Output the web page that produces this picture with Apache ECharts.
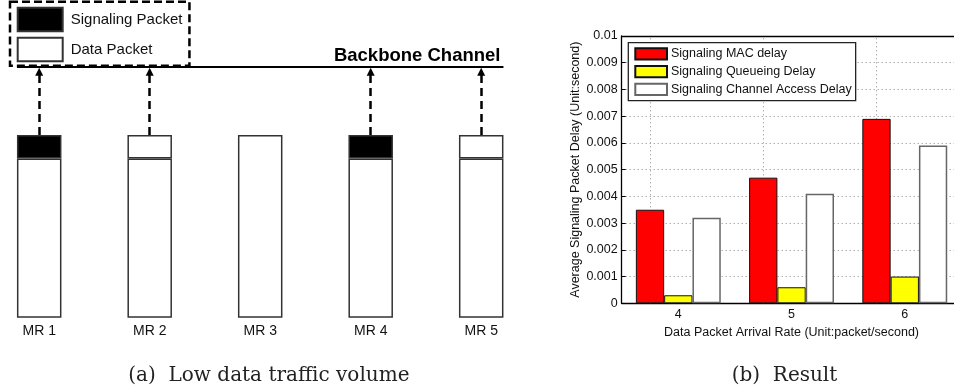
<!DOCTYPE html>
<html>
<head>
<meta charset="utf-8">
<script src="https://cdn.jsdelivr.net/npm/echarts@6/dist/echarts.min.js"></script>
<style>
  html, body { margin: 0; padding: 0; background: #fff; }
  #chart { width: 954px; height: 389px; }
</style>
</head>
<body>
<div id="chart"></div>
<script>
// ---- Panel (a): mesh router buffers and their head-of-line packets ----
const mrNames = ['MR 1', 'MR 2', 'MR 3', 'MR 4', 'MR 5'];
const queuedData = [6.8, 6.8, 7.8, 6.8, 6.8];   // buffered data packets
const headSignaling = [1, 0, 0, 1, 0];           // signaling packet at the head
const headData = [0, 1, 0, 0, 1];                // data packet at the head
const backboneLevel = 10.7;
const arrowEnd = 10.5;

// ---- Panel (b): signaling delay vs. data packet arrival rate ----
const rateLabels = ['4', '5', '6'];
const macDelay = [0.0035, 0.0047, 0.0069];
const queueingDelay = [0.0003, 0.0006, 0.0010];
const accessDelay = [0.0032, 0.0041, 0.0059];
const gridMarks = [3.75, 4.75, 5.75];

const SANS = '"Liberation Sans", Arial, sans-serif';
const chart = echarts.init(document.getElementById('chart'), null, { renderer: 'canvas' });

// panel (a) layout: one category band per router
const bandPx = 110.5;
const bufferWidth = 44.5;
const halfBuffer = bufferWidth / 2 / bandPx;       // half a buffer, in band units

const orDash = (vals) => vals.map((v) => (v ? v : '-'));

// dashed transmission arrows from each non-empty buffer head up to the backbone
const arrows = [];
mrNames.forEach((name, i) => {
  if (headSignaling[i] + headData[i] > 0) {
    const top = queuedData[i] + headSignaling[i] + headData[i];
    arrows.push([{ coord: [name, top] }, { coord: [name, arrowEnd] }]);
  }
});

const bufferBorder = { borderColor: '#333', borderWidth: 1.5 };

const option = {
  animation: false,
  backgroundColor: '#fff',
  grid: [
    { left: 39.2 - bandPx / 2, width: bandPx * 5, top: 60, height: 257.7, outerBoundsMode: 'none', containLabel: false },
    { left: 621.7, width: 339.7, top: 36, height: 267.3, outerBoundsMode: 'none', containLabel: false }
  ],
  xAxis: [
    {
      gridIndex: 0, type: 'category', data: mrNames,
      axisLine: { show: false }, axisTick: { show: false }, splitLine: { show: false },
      axisLabel: { margin: 6, fontFamily: SANS, fontSize: 14, color: '#111' }
    },
    {
      gridIndex: 1, type: 'category', data: rateLabels, position: 'bottom',
      axisLine: { lineStyle: { color: '#000', width: 1.3 } },
      axisTick: { show: false },
      axisLabel: { margin: 5, fontFamily: SANS, fontSize: 12.5, color: '#111' },
      name: 'Data Packet Arrival Rate (Unit:packet/second)',
      nameLocation: 'middle', nameGap: 18,
      nameTextStyle: { fontFamily: SANS, fontSize: 12.5, color: '#111' }
    },
    {
      gridIndex: 1, type: 'value', min: 3.5, max: 6.5, position: 'top',
      axisLine: { show: true, onZero: false, lineStyle: { color: '#000', width: 1.3 } },
      axisTick: { show: false }, axisLabel: { show: false }, splitLine: { show: false }
    },
    {
      // continuous helper axis over the router bands (band centres at 1..5)
      gridIndex: 0, type: 'value', min: 0.5, max: mrNames.length + 0.5, show: false
    }
  ],
  yAxis: [
    { gridIndex: 0, type: 'value', min: 0, max: 11, show: false },
    {
      gridIndex: 1, type: 'value', min: 0, max: 0.01, interval: 0.001,
      axisLine: { show: true, lineStyle: { color: '#000', width: 1.3 } },
      axisTick: { show: true, inside: true, length: 4, lineStyle: { color: '#000' } },
      axisLabel: { margin: 4, fontFamily: SANS, fontSize: 12.5, color: '#111' },
      splitLine: { show: true, lineStyle: { color: '#8a8a8a', type: [1, 3], width: 1 } },
      name: 'Average Signaling Packet Delay (Unit:second)',
      nameLocation: 'middle', nameGap: 33,
      nameTextStyle: { fontFamily: SANS, fontSize: 12.5, color: '#111' }
    }
  ],
  legend: [
    {
      data: ['Signaling Packet', 'Data Packet'],
      orient: 'vertical', left: 10, top: 1.7,
      icon: 'rect', itemWidth: 45, itemHeight: 23.5, itemGap: 4.5,
      padding: [5, 7, 3.5, 6.7],
      borderColor: '#000', borderWidth: 2.5, borderType: [8, 4],
      textStyle: { fontFamily: SANS, fontSize: 15, color: '#111', lineHeight: 20, padding: [0, 0, 0, 3] },
      selectedMode: false
    },
    {
      data: ['Signaling MAC delay', 'Signaling Queueing Delay', 'Signaling Channel Access Delay'],
      orient: 'vertical', left: 628.3, top: 42.7,
      icon: 'rect', itemWidth: 31.7, itemHeight: 11.3, itemGap: 4.4,
      padding: [4.6, 4, 4.6, 6],
      backgroundColor: '#fff', borderColor: '#222', borderWidth: 1.3,
      textStyle: { fontFamily: SANS, fontSize: 12.5, color: '#111', lineHeight: 11.3, padding: [0, 0, 0, -1] },
      selectedMode: false
    }
  ],
  series: [
    {
      name: 'Data Packet', type: 'bar', xAxisIndex: 0, yAxisIndex: 0, stack: 'buffer',
      barWidth: bufferWidth, data: queuedData,
      itemStyle: Object.assign({ color: '#fff' }, bufferBorder)
    },
    {
      name: 'Signaling Packet', type: 'bar', xAxisIndex: 0, yAxisIndex: 0, stack: 'buffer',
      barWidth: bufferWidth, data: orDash(headSignaling),
      itemStyle: Object.assign({ color: '#000' }, bufferBorder),
      markLine: {
        silent: true, animation: false,
        symbol: ['none', 'triangle'], symbolSize: [8, 8],
        lineStyle: { color: '#000', width: 2.5, type: [8, 5] },
        label: { show: false },
        data: arrows
      }
    },
    {
      name: 'Data Packet', type: 'bar', xAxisIndex: 0, yAxisIndex: 0, stack: 'buffer',
      barWidth: bufferWidth, data: orDash(headData),
      itemStyle: Object.assign({ color: '#fff' }, bufferBorder)
    },
    {
      // the shared backbone channel spanning all routers
      name: 'backbone', type: 'line', xAxisIndex: 3, yAxisIndex: 0, data: [], silent: true,
      markLine: {
        silent: true, animation: false, symbol: 'none',
        lineStyle: { color: '#000', width: 2, type: 'solid' },
        label: {
          show: true, position: 'insideEndTop', formatter: 'Backbone Channel',
          distance: [3, 2], fontFamily: SANS, fontSize: 18.5, fontWeight: 'bold', color: '#000'
        },
        data: [[
          { coord: [1 - halfBuffer, backboneLevel] },
          { coord: [mrNames.length + halfBuffer, backboneLevel] }
        ]]
      }
    },
    {
      name: 'Signaling MAC delay', type: 'bar', xAxisIndex: 1, yAxisIndex: 1,
      barWidth: 28.3, barGap: '0%', data: macDelay,
      itemStyle: { color: '#ff0000', borderColor: '#111', borderWidth: 1 }
    },
    {
      name: 'Signaling Queueing Delay', type: 'bar', xAxisIndex: 1, yAxisIndex: 1,
      barWidth: 28.3, barGap: '0%', data: queueingDelay,
      itemStyle: { color: '#ffff00', borderColor: '#111', borderWidth: 1 }
    },
    {
      name: 'Signaling Channel Access Delay', type: 'bar', xAxisIndex: 1, yAxisIndex: 1,
      barWidth: 28.3, barGap: '0%', data: accessDelay,
      itemStyle: { color: '#fff', borderColor: '#666', borderWidth: 1.5 }
    },
    {
      // vertical dotted grid lines of panel (b)
      name: 'grid', type: 'line', xAxisIndex: 2, yAxisIndex: 1, data: [], silent: true,
      markLine: {
        silent: true, animation: false, z: 1, symbol: 'none',
        lineStyle: { color: '#8a8a8a', type: [1, 3], width: 1 },
        label: { show: false },
        data: gridMarks.map((v) => ({ xAxis: v }))
      }
    }
  ],
  graphic: [
    {
      type: 'text', left: 128.3, top: 366,
      style: { text: '(a)  Low data traffic volume', font: '20px "DejaVu Serif", serif', fill: '#222' }
    },
    {
      type: 'text', left: 731.7, top: 366,
      style: { text: '(b)  Result', font: '20px "DejaVu Serif", serif', fill: '#222' }
    }
  ]
};

chart.setOption(option);
</script>
</body>
</html>
